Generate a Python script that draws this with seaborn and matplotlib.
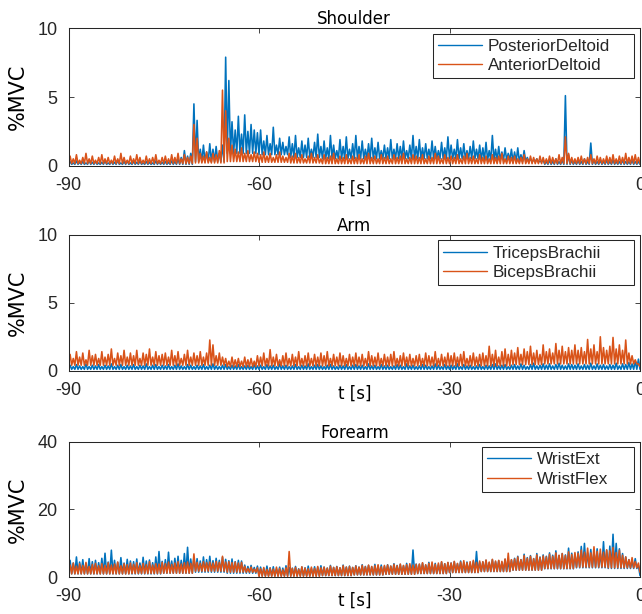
import numpy as np
import pandas as pd
import matplotlib
matplotlib.use("Agg")
import matplotlib.pyplot as plt
import seaborn as sns

# ---------------------------------------------------------------------------
# EMG envelopes, %MVC.  "hi" = burst peaks every 0.5 s (t = -89.75 ... -0.25),
# "lo" = floor level between bursts, one value per 5 s (t = -90 ... 0).
# ---------------------------------------------------------------------------
x_ticks = [-90, -60, -30, 0]
x_tick_labels = ["-90", "-60", "-30", "0"]

shoulder_names = ["PosteriorDeltoid", "AnteriorDeltoid"]
shoulder_yticks = [0, 5, 10]
posterior_hi = [
    0.3, 0.2, 0.35, 0.25, 0.3, 0.2, 0.4, 0.25, 0.3, 0.2,
    0.25, 0.35, 0.2, 0.3, 0.25, 0.4, 0.2, 0.3, 0.35, 0.2,
    0.3, 0.25, 0.35, 0.2, 0.3, 0.25, 0.2, 0.35, 0.3, 0.25,
    0.3, 0.25, 0.35, 0.3, 0.5, 0.6, 1.1, 0.7, 0.9, 4.5,
    3.3, 1.2, 1.5, 1.0, 1.6, 1.2, 1.4, 0.9, 1.5, 7.9,
    6.2, 3.2, 2.6, 3.6, 2.3, 3.7, 2.5, 3.0, 2.6, 2.4,
    2.6, 1.8, 2.2, 1.6, 2.8, 1.5, 2.0, 1.7, 1.4, 2.1,
    1.6, 2.2, 1.3, 1.8, 1.5, 2.0, 1.2, 1.7, 2.3, 1.4,
    1.8, 1.3, 2.2, 1.5, 1.1, 1.9, 1.4, 2.1, 1.2, 1.6,
    2.2, 1.4, 1.8, 1.2, 1.6, 2.0, 1.3, 1.7, 1.1, 1.5,
    1.3, 1.9, 1.2, 1.6, 1.4, 1.8, 1.1, 1.5, 2.2, 1.4,
    1.9, 1.3, 1.6, 1.2, 1.8, 1.4, 1.1, 1.7, 1.3, 2.1,
    1.5, 1.2, 1.9, 1.3, 1.6, 1.1, 1.4, 1.8, 1.2, 1.5,
    1.3, 1.7, 1.1, 2.2, 1.2, 1.4, 1.0, 1.3, 0.9, 1.2,
    1.0, 1.3, 0.8, 1.1, 0.6, 0.5, 0.4, 0.5, 0.3, 0.4,
    0.3, 0.4, 0.3, 0.5, 0.3, 0.4, 5.1, 0.8, 0.4, 0.3,
    0.4, 0.3, 0.5, 0.3, 1.65, 0.4, 0.3, 0.4, 0.3, 0.4,
    0.3, 0.4, 0.3, 0.3, 0.4, 0.3, 0.3, 0.4, 0.3, 0.3,
]
posterior_lo = [0.1, 0.1, 0.1, 0.1, 0.3, 0.9, 0.8, 0.6, 0.5, 0.5,
                0.5, 0.5, 0.5, 0.4, 0.3, 0.1, 0.1, 0.1, 0.1]
anterior_hi = [
    0.7, 0.5, 0.8, 0.4, 0.6, 0.9, 0.5, 0.7, 0.4, 0.6,
    0.8, 0.5, 0.6, 0.4, 0.7, 0.5, 0.9, 0.6, 0.4, 0.7,
    0.5, 0.8, 0.6, 0.4, 0.7, 0.5, 0.6, 0.8, 0.4, 0.6,
    0.7, 0.5, 0.8, 0.6, 0.9, 0.5, 0.8, 0.6, 0.7, 3.0,
    2.0, 0.9, 0.7, 1.0, 0.6, 0.9, 0.8, 1.1, 5.5, 4.0,
    2.0, 1.5, 1.2, 1.0, 1.3, 0.9, 1.1, 0.8, 1.0, 0.9,
    0.8, 1.0, 0.7, 0.9, 0.6, 0.8, 1.0, 0.7, 0.6, 0.9,
    0.7, 0.9, 0.6, 0.8, 0.5, 0.7, 0.9, 0.6, 0.8, 0.5,
    0.8, 0.6, 0.7, 0.9, 0.5, 0.7, 0.6, 0.8, 0.5, 0.7,
    0.6, 0.8, 0.5, 0.7, 0.9, 0.6, 0.7, 0.5, 0.8, 0.6,
    0.7, 0.5, 0.8, 0.6, 0.7, 0.9, 0.5, 0.6, 0.8, 0.7,
    0.6, 0.8, 0.5, 0.7, 0.6, 0.9, 0.7, 0.5, 0.8, 0.6,
    0.7, 0.6, 0.8, 0.5, 0.7, 0.9, 0.6, 0.7, 0.5, 0.8,
    0.6, 0.7, 0.5, 0.8, 0.6, 0.7, 0.9, 0.5, 0.7, 0.6,
    0.7, 0.5, 0.6, 0.8, 0.5, 0.7, 0.6, 0.5, 0.7, 0.6,
    0.5, 0.7, 0.6, 0.5, 0.8, 0.6, 2.1, 0.9, 0.6, 0.5,
    0.6, 0.7, 0.5, 0.6, 0.8, 0.5, 0.7, 0.6, 0.5, 0.7,
    0.6, 0.8, 0.5, 0.7, 0.6, 0.9, 0.6, 0.7, 0.8, 0.6,
]
anterior_lo = [0.15, 0.15, 0.15, 0.15, 0.2, 0.3, 0.25, 0.2, 0.15, 0.15,
               0.15, 0.15, 0.15, 0.15, 0.15, 0.15, 0.15, 0.15, 0.15]

arm_names = ["TricepsBrachii", "BicepsBrachii"]
arm_yticks = [0, 5, 10]
triceps_hi = [
    0.40, 0.30, 0.45, 0.35, 0.30, 0.50, 0.30, 0.40, 0.35, 0.45,
    0.30, 0.40, 0.35, 0.50, 0.30, 0.40, 0.45, 0.30, 0.40, 0.35,
    0.45, 0.30, 0.40, 0.35, 0.50, 0.30, 0.40, 0.45, 0.30, 0.40,
    0.35, 0.45, 0.30, 0.40, 0.50, 0.35, 0.30, 0.45, 0.40, 0.30,
    0.40, 0.35, 0.45, 0.30, 0.40, 0.50, 0.35, 0.30, 0.40, 0.45,
    0.30, 0.40, 0.35, 0.45, 0.30, 0.35, 0.40, 0.30, 0.45, 0.35,
    0.40, 0.30, 0.45, 0.35, 0.40, 0.30, 0.50, 0.35, 0.40, 0.30,
    0.35, 0.45, 0.30, 0.40, 0.35, 0.50, 0.30, 0.40, 0.45, 0.35,
    0.30, 0.40, 0.45, 0.35, 0.30, 0.40, 0.35, 0.45, 0.30, 0.40,
    0.45, 0.35, 0.40, 0.30, 0.50, 0.35, 0.40, 0.30, 0.45, 0.35,
    0.40, 0.30, 0.35, 0.45, 0.40, 0.30, 0.50, 0.35, 0.40, 0.30,
    0.35, 0.45, 0.40, 0.30, 0.35, 0.50, 0.40, 0.30, 0.45, 0.35,
    0.40, 0.35, 0.50, 0.30, 0.45, 0.35, 0.40, 0.30, 0.35, 0.45,
    0.30, 0.40, 0.35, 0.45, 0.50, 0.35, 0.40, 0.45, 0.30, 0.40,
    0.45, 0.35, 0.50, 0.40, 0.30, 0.45, 0.55, 0.35, 0.40, 0.50,
    0.40, 0.50, 0.35, 0.45, 0.55, 0.40, 0.35, 0.50, 0.45, 0.40,
    0.50, 0.35, 0.45, 0.40, 0.55, 0.35, 0.50, 0.40, 0.45, 0.35,
    0.45, 0.40, 0.55, 0.35, 0.50, 0.45, 0.60, 0.50, 0.70, 0.85,
]
triceps_lo = [0.1] * 19
biceps_hi = [
    1.2, 0.9, 1.4, 1.0, 1.3, 0.8, 1.5, 1.1, 1.2, 0.9,
    1.4, 1.0, 1.2, 1.6, 0.9, 1.3, 1.1, 1.5, 1.0, 1.3,
    1.1, 1.5, 0.9, 1.3, 1.2, 1.6, 1.0, 1.4, 1.1, 1.2,
    1.3, 1.0, 1.5, 1.1, 1.4, 0.9, 1.2, 1.5, 1.0, 1.3,
    1.1, 1.4, 1.0, 1.3, 2.26, 1.9, 1.1, 1.3, 1.0, 0.9,
    0.7, 1.0, 0.8, 0.9, 0.7, 1.0, 0.8, 0.9, 0.7, 1.1,
    1.0, 1.3, 0.9, 1.55, 1.0, 1.2, 0.8, 1.1, 1.3, 0.9,
    1.2, 1.0, 1.4, 0.9, 1.1, 1.3, 0.9, 1.2, 1.0, 1.3,
    1.1, 1.4, 0.9, 1.2, 1.0, 1.3, 1.1, 0.9, 1.2, 1.0,
    1.3, 1.0, 1.2, 0.9, 1.4, 1.1, 1.0, 1.3, 0.9, 1.2,
    1.0, 1.2, 1.4, 0.9, 1.1, 1.3, 1.0, 1.2, 0.9, 1.1,
    1.2, 0.9, 1.3, 1.1, 1.0, 1.4, 0.9, 1.2, 1.0, 1.3,
    1.1, 1.3, 1.0, 1.2, 1.4, 0.9, 1.1, 1.3, 1.0, 1.2,
    1.3, 1.1, 1.8, 1.2, 1.5, 1.0, 1.4, 1.6, 1.2, 1.5,
    1.3, 1.7, 1.2, 1.6, 1.4, 1.8, 1.3, 1.5, 1.2, 1.9,
    1.4, 1.6, 1.3, 2.0, 1.5, 1.8, 1.4, 1.7, 1.5, 1.9,
    1.5, 1.7, 1.4, 2.3, 1.6, 1.9, 1.4, 2.5, 1.7, 1.5,
    1.8, 2.45, 1.6, 1.9, 1.5, 2.26, 1.3, 1.1, 0.8, 0.5,
]
biceps_lo = [0.4, 0.4, 0.4, 0.4, 0.4, 0.3, 0.35, 0.35, 0.35, 0.35,
             0.35, 0.35, 0.35, 0.35, 0.45, 0.5, 0.5, 0.5, 0.3]

forearm_names = ["WristExt", "WristFlex"]
forearm_yticks = [0, 20, 40]
wristext_hi = [
    5.0, 4.2, 6.0, 4.5, 5.2, 4.0, 5.5, 4.6, 5.0, 4.3,
    5.6, 7.1, 4.5, 8.0, 5.0, 4.4, 5.8, 4.2, 5.3, 4.8,
    4.6, 5.4, 4.2, 5.9, 4.8, 5.1, 4.3, 6.0, 7.6, 4.7,
    5.2, 7.4, 4.8, 5.6, 6.2, 5.0, 7.0, 8.85, 5.4, 5.8,
    5.5, 4.8, 6.0, 5.2, 6.2, 4.9, 5.6, 5.0, 5.9, 5.3,
    4.9, 5.4, 4.6, 5.0, 4.8, 3.6, 3.2, 3.5, 2.9, 3.3,
    3.0, 2.6, 3.3, 2.8, 3.1, 2.5, 3.0, 2.7, 3.4, 2.9,
    2.7, 3.2, 2.5, 3.0, 2.8, 3.3, 2.6, 3.1, 2.9, 3.4,
    3.0, 2.7, 3.5, 2.9, 3.2, 2.8, 3.6, 3.0, 3.3, 2.9,
    3.4, 3.0, 3.7, 3.2, 3.5, 3.1, 3.8, 3.3, 3.6, 3.2,
    3.7, 3.3, 4.0, 3.5, 3.8, 3.4, 4.1, 3.6, 8.05, 3.9,
    3.8, 4.2, 3.6, 4.4, 3.9, 4.1, 3.7, 4.5, 4.0, 4.3,
    4.2, 4.6, 4.0, 4.8, 4.3, 4.5, 4.1, 4.7, 7.6, 4.4,
    4.5, 5.0, 4.3, 5.2, 4.6, 4.9, 4.4, 5.3, 4.8, 5.1,
    5.6, 6.2, 5.2, 6.8, 5.8, 6.4, 5.5, 7.0, 6.0, 6.6,
    6.2, 7.2, 6.5, 7.8, 6.4, 7.0, 6.6, 8.6, 7.1, 6.8,
    7.5, 9.1, 10.0, 7.2, 8.2, 7.6, 8.4, 7.0, 10.5, 8.0,
    9.2, 12.7, 10.0, 8.4, 7.0, 6.0, 5.2, 4.8, 5.5, 3.5,
]
wristext_lo = [1.0, 1.0, 1.0, 1.2, 1.5, 1.2, 0.4, 0.4, 0.5, 0.7,
               0.9, 1.1, 1.4, 1.7, 2.1, 2.5, 2.8, 2.6, 0.5]
wristflex_hi = [
    3.6, 4.2, 3.3, 4.0, 3.5, 4.4, 3.2, 3.8, 4.1, 3.4,
    4.0, 3.5, 4.3, 3.6, 3.9, 4.5, 3.4, 4.0, 3.7, 4.2,
    3.8, 4.3, 3.5, 4.1, 3.7, 4.6, 3.6, 4.0, 3.9, 4.4,
    4.0, 4.5, 3.8, 4.2, 4.6, 3.9, 4.3, 4.5, 4.1, 6.9,
    4.4, 4.1, 4.6, 4.3, 4.5, 4.2, 4.7, 4.4, 6.2, 4.5,
    4.6, 4.3, 4.5, 4.2, 4.4, 3.2, 2.6, 3.0, 2.4, 2.8,
    2.5, 2.9, 2.3, 2.7, 2.4, 3.0, 2.6, 2.2, 2.8, 7.6,
    2.6, 2.9, 2.4, 3.1, 2.7, 2.5, 3.0, 2.6, 3.2, 2.8,
    3.0, 2.7, 3.3, 2.9, 3.1, 2.8, 3.4, 3.0, 3.2, 2.9,
    3.3, 3.0, 3.5, 3.1, 3.6, 3.2, 3.4, 3.7, 3.1, 3.5,
    3.6, 3.3, 3.8, 3.4, 3.9, 3.5, 3.7, 4.0, 3.6, 3.8,
    3.9, 4.3, 3.7, 4.1, 4.5, 3.8, 4.2, 4.6, 4.0, 4.4,
    4.2, 4.7, 4.1, 4.5, 4.9, 4.3, 4.6, 5.0, 4.4, 4.8,
    4.6, 5.1, 4.5, 5.3, 4.8, 5.0, 4.7, 5.4, 7.1, 5.2,
    5.4, 6.0, 5.2, 6.4, 5.6, 6.2, 5.5, 6.6, 5.8, 6.3,
    6.0, 6.8, 6.2, 7.2, 6.5, 7.0, 6.4, 7.5, 6.7, 7.3,
    7.1, 8.0, 7.4, 8.6, 7.2, 9.0, 7.6, 8.3, 7.4, 8.1,
    7.8, 8.8, 7.3, 8.0, 6.5, 6.0, 5.2, 5.8, 4.6, 4.2,
]
wristflex_lo = [1.0, 1.0, 1.1, 1.2, 1.8, 1.5, 0.3, 0.3, 0.5, 0.7,
                0.9, 1.1, 1.4, 1.7, 2.1, 2.6, 3.0, 2.8, 1.5]

# ---------------------------------------------------------------------------
colors = ["#0072BD", "#D95319"]
ink = "#262626"

sns.set_theme(style="ticks")
plt.rcParams.update({
    "font.family": ["DejaVu Sans"],
    "axes.unicode_minus": False,
    "axes.edgecolor": ink,
    "axes.linewidth": 0.75,
    "xtick.color": ink,
    "ytick.color": ink,
})

t_lo = -90 + 0.5 * np.arange(181)
t_hi = t_lo[:-1] + 0.25


def trace(hi, lo5):
    lo = np.asarray(lo5, dtype=float)[np.arange(181) // 10]
    t = np.empty(361)
    y = np.empty(361)
    t[0::2], t[1::2] = t_lo, t_hi
    y[0::2], y[1::2] = lo, np.asarray(hi, dtype=float)
    return t, y


panels = [
    ("Shoulder", shoulder_names, shoulder_yticks,
     [(posterior_hi, posterior_lo), (anterior_hi, anterior_lo)],
     [0.7301, 0.2238], [0.6378, 0.3522]),
    ("Arm", arm_names, arm_yticks,
     [(triceps_hi, triceps_lo), (biceps_hi, biceps_lo)],
     [0.3963, 0.2210], [0.6460, 0.3440]),
    ("Forearm", forearm_names, forearm_yticks,
     [(wristext_hi, wristext_lo), (wristflex_hi, wristflex_lo)],
     [0.0598, 0.2208], [0.7230, 0.2670]),
]

fig = plt.figure(figsize=(6.42, 6.14), dpi=100)

for title, names, yticks, series, (bottom, height), (lx, lw) in panels:
    ax = fig.add_axes([0.1067, bottom, 0.8902, height])
    frames = []
    for name, (hi, lo5) in zip(names, series):
        t, y = trace(hi, lo5)
        frames.append(pd.DataFrame({"t": t, "v": y, "muscle": name}))
    df = pd.concat(frames, ignore_index=True)
    sns.lineplot(data=df, x="t", y="v", hue="muscle", hue_order=names,
                 palette=colors, estimator=None, sort=False, lw=1.15,
                 ax=ax, legend=False)

    ax.set_xlim(-90, 0)
    ax.set_ylim(yticks[0], yticks[-1])
    ax.set_xticks(x_ticks, x_tick_labels)
    ax.set_yticks(yticks, [str(v) for v in yticks])
    ax.tick_params(direction="in", length=3.6, width=0.6, top=True,
                   right=True, labelsize=13, labelcolor=ink)
    ax.tick_params(axis="x", pad=8)
    ax.tick_params(axis="y", pad=8)
    for lbl in ax.get_xticklabels() + ax.get_yticklabels():
        lbl.set_fontfamily("Liberation Sans")
    for sp in ax.spines.values():
        sp.set_visible(True)
        sp.set_color(ink)

    ax.set_title(title, fontsize=12, color="black", pad=3)
    ax.set_xlabel("t [s]", fontsize=12, color="black")
    ax.xaxis.set_label_coords(0.5, -0.104)
    ax.set_ylabel("%MVC", fontsize=15, color="black", va="center")
    ax.yaxis.set_label_coords(-0.088, 0.5)

    top = 1 - 5.5 / (height * 614)
    leg = ax.legend(handles=ax.get_lines()[:2], labels=names,
                    loc="upper left", bbox_to_anchor=(lx, 0.0, lw, top),
                    mode="expand", borderaxespad=0, borderpad=0.3,
                    labelspacing=0.26, handlelength=2.58,
                    handletextpad=0.33, fancybox=False, framealpha=1,
                    edgecolor=ink, prop={"family": "Liberation Sans",
                                         "size": 12.3})
    leg.get_frame().set_linewidth(0.75)
    for ln in leg.get_lines():
        ln.set_linewidth(1.0)

fig.savefig("out.png", dpi=100)
